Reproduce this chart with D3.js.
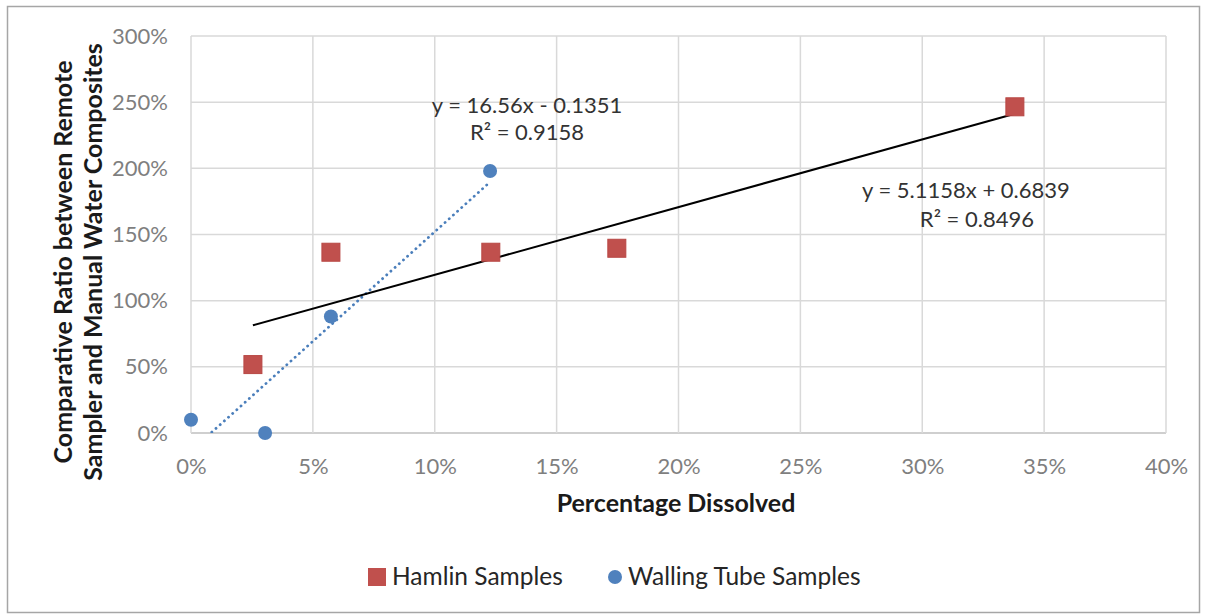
<!DOCTYPE html>
<html>
<head>
<meta charset="utf-8">
<script src="https://cdn.jsdelivr.net/npm/d3@7"></script>
<style>
  body { margin: 0; background: #fff; }
  text { font-family: Lato, "Open Sans", sans-serif; }
</style>
</head>
<body>
<div id="chart"></div>
<script>
// data (fractions)
const hamlinX = [0.0254, 0.0574, 0.123, 0.1747, 0.338];
const hamlinY = [0.517, 1.366, 1.366, 1.396, 2.465];
const wallingX = [0.0, 0.0304, 0.0574, 0.1227];
const wallingY = [0.10, 0.0, 0.88, 1.98];

// trend lines (from the labels on the chart)
const hamlinTrend = { slope: 5.1158, intercept: 0.6839, label: ["y = 5.1158x + 0.6839", "R\u00b2 = 0.8496"] };
const wallingTrend = { slope: 16.56, intercept: -0.1351, label: ["y = 16.56x - 0.1351", "R\u00b2 = 0.9158"] };

const xTicks = [0, 0.05, 0.10, 0.15, 0.20, 0.25, 0.30, 0.35, 0.40];
const yTicks = [0, 0.5, 1.0, 1.5, 2.0, 2.5, 3.0];

let W = 1207, H = 616;
let margin = { top: 36, right: 41, bottom: 183, left: 191 };
let width = W - margin.left - margin.right;
let height = H - margin.top - margin.bottom;

let svg0 = d3.select("#chart").append("svg")
    .attr("width", W)
    .attr("height", H);

// outer chart border
svg0.append("rect")
    .attr("x", 7.5).attr("y", 6.5)
    .attr("width", 1192).attr("height", 606)
    .attr("fill", "none")
    .attr("stroke", "#a6a6a6")
    .attr("stroke-width", 1.5);

let svg = svg0.append("g")
    .attr("transform", `translate(${margin.left},${margin.top})`);

let x = d3.scaleLinear().domain([0, 0.40]).range([0, width]);
let y = d3.scaleLinear().domain([0, 3.0]).range([height, 0]);

// gridlines
svg.append("g")
    .selectAll("line")
    .data(yTicks)
    .enter().append("line")
    .attr("x1", 0).attr("x2", width)
    .attr("y1", d => y(d)).attr("y2", d => y(d))
    .attr("stroke", d => d === 0 ? "#bfbfbf" : "#d9d9d9")
    .attr("stroke-width", 1.5);

svg.append("g")
    .selectAll("line")
    .data(xTicks)
    .enter().append("line")
    .attr("x1", d => x(d)).attr("x2", d => x(d))
    .attr("y1", 0).attr("y2", height)
    .attr("stroke", "#d9d9d9")
    .attr("stroke-width", 1.5);

// axes (labels only)
let fmtPct = d => Math.round(d * 100) + "%";

let yAxis = svg.append("g")
    .call(d3.axisLeft(y).tickValues(yTicks).tickFormat(fmtPct).tickSize(0).tickPadding(23));
yAxis.select(".domain").remove();
yAxis.selectAll("text")
    .style("font-size", "22px")
    .attr("fill", "#7f7f7f");

let xAxis = svg.append("g")
    .attr("transform", `translate(0, ${height})`)
    .call(d3.axisBottom(x).tickValues(xTicks).tickFormat(fmtPct).tickSize(0).tickPadding(25));
xAxis.select(".domain").remove();
xAxis.selectAll("text")
    .style("font-size", "22px")
    .attr("fill", "#7f7f7f");

// clip for trend lines
svg.append("clipPath").attr("id", "plotClip")
    .append("rect").attr("x", 0).attr("y", 0).attr("width", width).attr("height", height);

let line = d3.line().x(d => x(d[0])).y(d => y(d[1]));
function trendPoints(xs, t) {
    let x0 = d3.min(xs), x1 = d3.max(xs);
    return [[x0, t.slope * x0 + t.intercept], [x1, t.slope * x1 + t.intercept]];
}

svg.append("path")
    .datum(trendPoints(wallingX, wallingTrend))
    .attr("clip-path", "url(#plotClip)")
    .attr("d", line)
    .attr("fill", "none")
    .attr("stroke", "#4a7ebb")
    .attr("stroke-width", 2.8)
    .attr("stroke-linecap", "round")
    .attr("stroke-dasharray", "0.1,5.5");

svg.append("path")
    .datum(trendPoints(hamlinX, hamlinTrend))
    .attr("clip-path", "url(#plotClip)")
    .attr("d", line)
    .attr("fill", "none")
    .attr("stroke", "#000")
    .attr("stroke-width", 2);

// Hamlin squares
let sq = 18;
svg.selectAll(".ham")
    .data(hamlinX.map((d, i) => [d, hamlinY[i]]))
    .enter().append("rect")
    .attr("class", "ham")
    .attr("x", d => x(d[0]) - sq / 2)
    .attr("y", d => y(d[1]) - sq / 2)
    .attr("width", sq).attr("height", sq)
    .attr("fill", "#c0504d")
    .attr("stroke", "#b84744")
    .attr("stroke-width", 1);

// Walling circles
svg.selectAll(".wal")
    .data(wallingX.map((d, i) => [d, wallingY[i]]))
    .enter().append("circle")
    .attr("class", "wal")
    .attr("cx", d => x(d[0]))
    .attr("cy", d => y(d[1]))
    .attr("r", 7)
    .attr("fill", "#4f81bd");

// trend labels
function eqLine(s, px, py, anchor) {
    svg0.append("text")
        .attr("x", px).attr("y", py)
        .attr("text-anchor", anchor)
        .style("font-size", "22px")
        .attr("fill", "#333")
        .text(s);
}
eqLine(wallingTrend.label[0], 527, 113, "middle");
eqLine(wallingTrend.label[1], 527, 140, "middle");
eqLine(hamlinTrend.label[0], 862, 198, "start");
eqLine(hamlinTrend.label[1], 1034, 227, "end");

// y axis title
let yt = svg0.append("text")
    .attr("transform", "translate(0,262) rotate(-90)")
    .attr("text-anchor", "middle")
    .style("font-size", "25px")
    .style("font-weight", "bold")
    .attr("fill", "#1a1a1a");
yt.append("tspan").attr("x", 0).attr("y", 72).text("Comparative  Ratio between Remote");
yt.append("tspan").attr("x", 0).attr("y", 102).text("Sampler and Manual Water Composites");

// x axis title
svg0.append("text")
    .attr("x", 676).attr("y", 512)
    .attr("text-anchor", "middle")
    .style("font-size", "25px")
    .style("font-weight", "bold")
    .attr("fill", "#1a1a1a")
    .text("Percentage Dissolved");

// legend
let legend = svg0.append("g").attr("transform", "translate(368,577)");
legend.append("rect")
    .attr("x", 0).attr("y", -9).attr("width", 18).attr("height", 18)
    .attr("fill", "#c0504d");
legend.append("text")
    .attr("x", 24).attr("y", 8)
    .style("font-size", "24.5px")
    .attr("fill", "#262626")
    .text("Hamlin Samples");
legend.append("circle")
    .attr("cx", 247).attr("cy", 0).attr("r", 7)
    .attr("fill", "#4f81bd");
legend.append("text")
    .attr("x", 260).attr("y", 8)
    .style("font-size", "24.5px")
    .attr("fill", "#262626")
    .text("Walling Tube Samples");
</script>
</body>
</html>
